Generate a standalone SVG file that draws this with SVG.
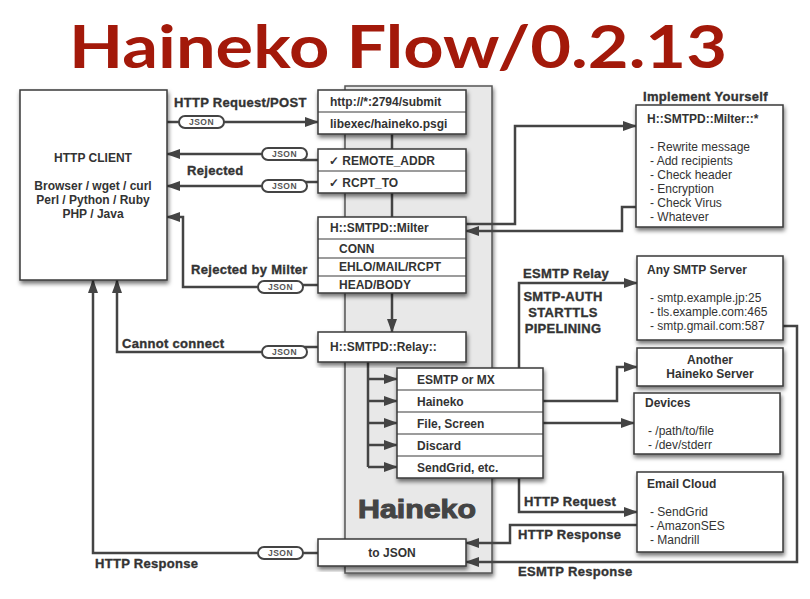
<svg xmlns="http://www.w3.org/2000/svg" width="810" height="599" viewBox="0 0 810 599">
<style>
.box{fill:#fff;stroke:#3a3a3a;stroke-width:1.5}
.sh{filter:url(#sh)}
.div{stroke:#3a3a3a;stroke-width:1.2}
.t{font-family:"Liberation Sans",Arial,sans-serif;font-size:12px;font-weight:bold;fill:#333}
.r{font-family:"Liberation Sans",Arial,sans-serif;font-size:12px;fill:#333}
.lbl{font-family:"Liberation Sans",Arial,sans-serif;font-size:13px;font-weight:bold;fill:#333;letter-spacing:0.3px;stroke:#333;stroke-width:0.35}
.ln{fill:none;stroke:#444;stroke-width:2.5}
.pill{fill:#fff;stroke:#444;stroke-width:2}
.pt{font-family:"Liberation Sans",Arial,sans-serif;font-size:8.5px;font-weight:bold;fill:#555;text-anchor:middle;letter-spacing:0.5px}
</style>
<defs>
<filter id="sh" x="-10%" y="-10%" width="125%" height="130%">
<feDropShadow dx="1" dy="3" stdDeviation="2" flood-color="#000" flood-opacity="0.55"/>
</filter>
<marker id="ar" markerUnits="userSpaceOnUse" markerWidth="14" markerHeight="10" refX="13" refY="5" orient="auto">
<path d="M0,0 L14,5 L0,10 z" fill="#444"/>
</marker>
</defs>
<rect width="810" height="599" fill="#fff"/>

<text x="398" y="68" text-anchor="middle" font-family="Lato,'Liberation Sans',sans-serif" font-weight="bold" font-size="60" fill="#a3190a" textLength="658" lengthAdjust="spacingAndGlyphs">Haineko Flow/0.2.13</text>

<g id="haineko-column">
<rect x="345" y="86" width="147" height="487" fill="#e8e8e8" stroke="#555" stroke-width="1.5" class="sh"/>
<text x="417" y="518" text-anchor="middle" font-family="'Liberation Sans',Arial,sans-serif" font-weight="bold" font-size="25" fill="#444" stroke="#444" stroke-width="1" textLength="118" lengthAdjust="spacingAndGlyphs">Haineko</text>
</g>

<g id="connectors">
<path class="ln" d="M167,122 H318" marker-end="url(#ar)"/>
<path class="ln" d="M318,160 H300 M270,154 H167" marker-end="url(#ar)"/>
<path class="ln" d="M318,182 H300 M270,186 H167" marker-end="url(#ar)"/>
<path class="ln" d="M318,285 H296 M265,287 H183 V217 H167" marker-end="url(#ar)"/>
<path class="ln" d="M318,347 H300 M270,352 H117 V280" marker-end="url(#ar)"/>
<path class="ln" d="M318,553 H93 V280" marker-end="url(#ar)"/>
<path class="ln" d="M392,134 V149 M392,193 V217"/>
<path class="ln" d="M392,293 V332" marker-end="url(#ar)"/>
<path class="ln" d="M368,362 V467"/>
<path class="ln" d="M368,379 H397" marker-end="url(#ar)"/>
<path class="ln" d="M368,401 H397" marker-end="url(#ar)"/>
<path class="ln" d="M368,423 H397" marker-end="url(#ar)"/>
<path class="ln" d="M368,445 H397" marker-end="url(#ar)"/>
<path class="ln" d="M368,467 H397" marker-end="url(#ar)"/>
<path class="ln" d="M466,224 H515 V126 H636" marker-end="url(#ar)"/>
<path class="ln" d="M636,207 H622 V231 H466" marker-end="url(#ar)"/>
<path class="ln" d="M519,368 V283 H637" marker-end="url(#ar)"/>
<path class="ln" d="M543,401 H617 V367 H637" marker-end="url(#ar)"/>
<path class="ln" d="M543,423 H634" marker-end="url(#ar)"/>
<path class="ln" d="M519,478 V512 H637" marker-end="url(#ar)"/>
<path class="ln" d="M637,525 H510 V543 H466" marker-end="url(#ar)"/>
<path class="ln" d="M783,326 H797 V562 H466" marker-end="url(#ar)"/>

<rect class="pill" x="179" y="116" width="45" height="12" rx="6"/><text class="pt" x="201.5" y="125">JSON</text>
<rect class="pill" x="262" y="148" width="45" height="12" rx="6"/><text class="pt" x="284.5" y="157">JSON</text>
<rect class="pill" x="262" y="180" width="45" height="12" rx="6"/><text class="pt" x="284.5" y="189">JSON</text>
<rect class="pill" x="258" y="281" width="45" height="12" rx="6"/><text class="pt" x="280.5" y="290">JSON</text>
<rect class="pill" x="262" y="346" width="45" height="12" rx="6"/><text class="pt" x="284.5" y="355">JSON</text>
<rect class="pill" x="258" y="547" width="45" height="12" rx="6"/><text class="pt" x="280.5" y="556">JSON</text>

<text class="lbl" x="174" y="107">HTTP Request/POST</text>
<text class="lbl" x="187" y="175">Rejected</text>
<text class="lbl" x="191" y="274">Rejected by Milter</text>
<text class="lbl" x="122" y="348">Cannot connect</text>
<text class="lbl" x="95" y="568">HTTP Response</text>
<text class="lbl" x="523" y="278">ESMTP Relay</text>
<text class="lbl" x="563" y="301" text-anchor="middle">SMTP-AUTH</text>
<text class="lbl" x="563" y="317" text-anchor="middle">STARTTLS</text>
<text class="lbl" x="563" y="333" text-anchor="middle">PIPELINING</text>
<text class="lbl" x="524" y="506">HTTP Request</text>
<text class="lbl" x="518" y="539">HTTP Response</text>
<text class="lbl" x="518" y="576">ESMTP Response</text>
<text class="lbl" x="643" y="101">Implement Yourself</text>
</g>

<g id="http-client">
<rect class="box sh" x="20" y="90" width="147" height="190"/>
<text class="t" x="93" y="162" text-anchor="middle">HTTP CLIENT</text>
<text class="t" x="93" y="190" text-anchor="middle">Browser / wget / curl</text>
<text class="t" x="93" y="204" text-anchor="middle">Perl / Python / Ruby</text>
<text class="t" x="93" y="218" text-anchor="middle">PHP / Java</text>
</g>

<g id="submit">
<rect class="box sh" x="318" y="90" width="148" height="44"/>
<line class="div" x1="318" y1="112" x2="466" y2="112"/>
<text class="t" x="330" y="106">http://*:2794/submit</text>
<text class="t" x="330" y="128">libexec/haineko.psgi</text>
</g>

<g id="checks">
<rect class="box sh" x="318" y="149" width="148" height="44"/>
<line class="div" x1="318" y1="171" x2="466" y2="171"/>
<text class="t" x="329" y="165">✓ REMOTE_ADDR</text>
<text class="t" x="329" y="187">✓ RCPT_TO</text>
</g>

<g id="milter">
<rect class="box sh" x="318" y="217" width="148" height="76"/>
<line class="div" x1="318" y1="239" x2="466" y2="239"/>
<line class="div" x1="318" y1="258" x2="466" y2="258"/>
<line class="div" x1="318" y1="276" x2="466" y2="276"/>
<text class="t" x="330" y="232">H::SMTPD::Milter</text>
<text class="t" x="339" y="253">CONN</text>
<text class="t" x="339" y="271">EHLO/MAIL/RCPT</text>
<text class="t" x="339" y="289">HEAD/BODY</text>
</g>

<g id="relay">
<rect class="box sh" x="318" y="332" width="148" height="30"/>
<text class="t" x="330" y="351">H::SMTPD::Relay::</text>
</g>

<g id="relay-targets">
<rect class="box sh" x="397" y="368" width="146" height="110"/>
<line class="div" x1="397" y1="390" x2="543" y2="390"/>
<line class="div" x1="397" y1="412" x2="543" y2="412"/>
<line class="div" x1="397" y1="434" x2="543" y2="434"/>
<line class="div" x1="397" y1="456" x2="543" y2="456"/>
<text class="t" x="417" y="384">ESMTP or MX</text>
<text class="t" x="417" y="406">Haineko</text>
<text class="t" x="417" y="428">File, Screen</text>
<text class="t" x="417" y="450">Discard</text>
<text class="t" x="417" y="472">SendGrid, etc.</text>
</g>

<g id="to-json">
<rect class="box sh" x="318" y="539" width="148" height="27"/>
<text class="t" x="392" y="557" text-anchor="middle">to JSON</text>
</g>

<g id="implement-yourself">
<rect class="box sh" x="636" y="105" width="147" height="122"/>
<text class="t" x="647" y="123">H::SMTPD::Milter::*</text>
<text class="r" x="650" y="151">- Rewrite message</text>
<text class="r" x="650" y="165">- Add recipients</text>
<text class="r" x="650" y="179">- Check header</text>
<text class="r" x="650" y="193">- Encryption</text>
<text class="r" x="650" y="207">- Check Virus</text>
<text class="r" x="650" y="221">- Whatever</text>
</g>

<g id="any-smtp-server">
<rect class="box sh" x="637" y="256" width="146" height="84"/>
<text class="t" x="647" y="274">Any SMTP Server</text>
<text class="r" x="650" y="302">- smtp.example.jp:25</text>
<text class="r" x="650" y="316">- tls.example.com:465</text>
<text class="r" x="650" y="330">- smtp.gmail.com:587</text>
</g>

<g id="another-haineko">
<rect class="box sh" x="637" y="348" width="146" height="38"/>
<text class="t" x="710" y="364" text-anchor="middle">Another</text>
<text class="t" x="710" y="378" text-anchor="middle">Haineko Server</text>
</g>

<g id="devices">
<rect class="box sh" x="634" y="393" width="146" height="61"/>
<text class="t" x="645" y="407">Devices</text>
<text class="r" x="648" y="435">- /path/to/file</text>
<text class="r" x="648" y="449">- /dev/stderr</text>
</g>

<g id="email-cloud">
<rect class="box sh" x="637" y="472" width="146" height="80"/>
<text class="t" x="647" y="488">Email Cloud</text>
<text class="r" x="650" y="516">- SendGrid</text>
<text class="r" x="650" y="530">- AmazonSES</text>
<text class="r" x="650" y="544">- Mandrill</text>
</g>
</svg>
